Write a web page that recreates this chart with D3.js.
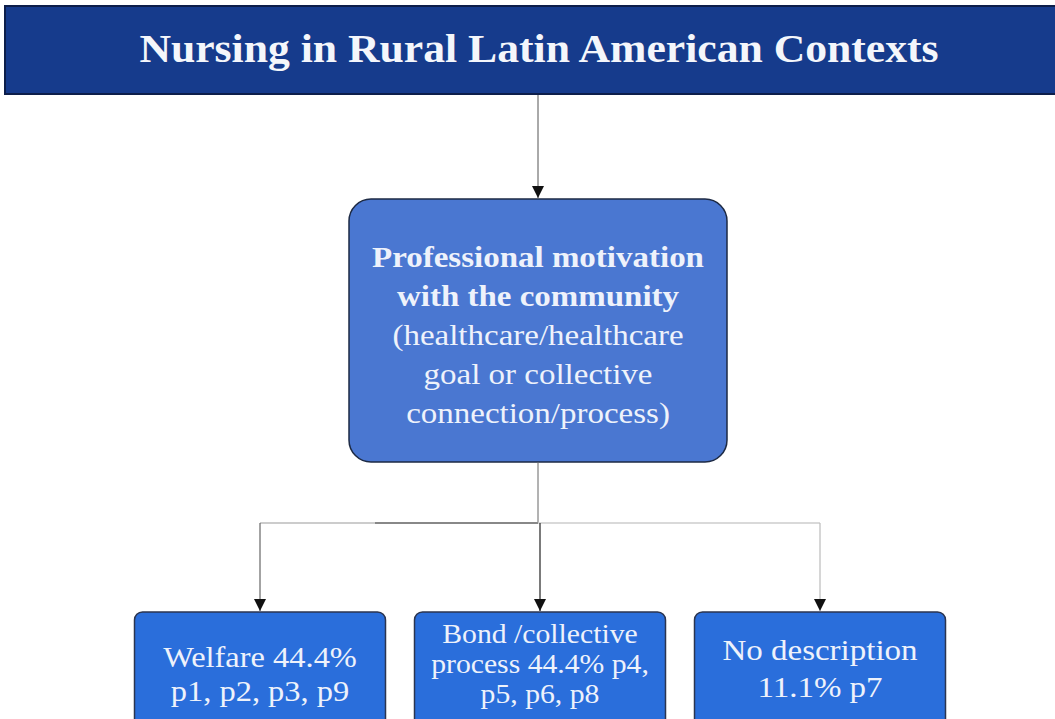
<!DOCTYPE html>
<html>
<head>
<meta charset="utf-8">
<script src="https://cdn.jsdelivr.net/npm/d3@7"></script>
<style>
  body { margin: 0; background: #fff; }
  svg { display: block; }
  text { font-family: "Liberation Serif", "DejaVu Serif", serif; }
</style>
</head>
<body>
<div id="flow"><svg></svg></div>
<script>
/** Data **/
var title = "Nursing in Rural Latin American Contexts";
var rootBold = ["Professional motivation", "with the community"];
var rootPlain = ["(healthcare/healthcare", "goal or collective", "connection/process)"];

var categories = ["Welfare", "Bond /collective process", "No description"];
var percents = ["44.4%", "44.4%", "11.1%"];
var participants = ["p1, p2, p3, p9", "p4, p5, p6, p8", "p7"];
// how each leaf label is broken into lines
var leafLines = [
    ["Welfare 44.4%", "p1, p2, p3, p9"],
    ["Bond /collective", "process 44.4% p4,", "p5, p6, p8"],
    ["No description", "11.1% p7"]
];


function drawFlow()
{
    var width = 1055;
    var height = 719;
    var stretch = 1.1;                  // the text in the picture is a bit wide

    var color_banner = "#163b8c";
    var color_root   = "#4a77d1";
    var color_leaf   = "#2a6edb";
    var color_text   = "#eef2fb";

    var svg = d3.select("#flow").select("svg")
        .attr("width", width)
        .attr("height", height);

    var defs = svg.append("defs");
    defs.append("marker")
        .attr("id", "arrow")
        .attr("viewBox", "0 0 10 10")
        .attr("refX", 10)
        .attr("refY", 5)
        .attr("markerWidth", 12)
        .attr("markerHeight", 13)
        .attr("markerUnits", "userSpaceOnUse")
        .attr("orient", "auto")
        .append("path")
        .attr("d", "M0,0 L10,5 L0,10 z")
        .style("fill", "#111");

    // Banner
    svg.append("rect")
        .attr("x", 5).attr("y", 6)
        .attr("width", width).attr("height", 88)
        .style("fill", color_banner)
        .style("stroke", "#0d1e4a")
        .style("stroke-width", 2);

    svg.append("text")
        .attr("transform", "translate(539,62) scale(1.065,1)")
        .attr("text-anchor", "middle")
        .style("font-size", "41px")
        .style("font-weight", "bold")
        .style("fill", "#f4f6fb")
        .text(title);

    // Root node
    var cx = 538;
    var root = {x: 349, y: 199, w: 378, h: 263};

    svg.append("line")
        .attr("x1", cx).attr("y1", 95)
        .attr("x2", cx).attr("y2", root.y - 1)
        .style("stroke", "#555").style("stroke-width", 1)
        .attr("marker-end", "url(#arrow)");

    svg.append("rect")
        .attr("x", root.x).attr("y", root.y)
        .attr("width", root.w).attr("height", root.h)
        .attr("rx", 22).attr("ry", 22)
        .style("fill", color_root)
        .style("stroke", "#1d2a44")
        .style("stroke-width", 1.5);

    var rootText = rootBold.map(function(t) { return {t: t, bold: true}; })
        .concat(rootPlain.map(function(t) { return {t: t, bold: false}; }));

    svg.append("g").selectAll("text")
        .data(rootText)
        .enter()
        .append("text")
        .attr("transform", function(d, i) {
            return "translate(" + cx + "," + (267 + i * 39) + ") scale(" + stretch + ",1)";
        })
        .attr("text-anchor", "middle")
        .style("font-size", "30px")
        .style("font-weight", function(d) { return d.bold ? "bold" : "normal"; })
        .style("fill", color_text)
        .text(function(d) { return d.t; });

    // Leaves
    var xScale = d3.scalePoint()
        .domain(categories)
        .range([260, 820]);

    var busY = 523;
    var leafTop = 612;
    var leafW = 251;

    svg.append("line")
        .attr("x1", cx).attr("y1", root.y + root.h)
        .attr("x2", cx).attr("y2", busY)
        .style("stroke", "#666").style("stroke-width", 1);

    svg.append("line")
        .attr("x1", xScale(categories[0])).attr("y1", busY)
        .attr("x2", 375).attr("y2", busY)
        .style("stroke", "#bbb").style("stroke-width", 1.5);
    svg.append("line")
        .attr("x1", 375).attr("y1", busY)
        .attr("x2", cx).attr("y2", busY)
        .style("stroke", "#888").style("stroke-width", 2);
    svg.append("line")
        .attr("x1", cx).attr("y1", busY)
        .attr("x2", xScale(categories[2])).attr("y2", busY)
        .style("stroke", "#ccc").style("stroke-width", 1.5);

    var edgeColors = ["#666", "#222", "#bbb"];
    svg.append("g").selectAll("line")
        .data(categories)
        .enter()
        .append("line")
        .attr("x1", function(d) { return xScale(d); })
        .attr("y1", busY)
        .attr("x2", function(d) { return xScale(d); })
        .attr("y2", leafTop - 1)
        .style("stroke", function(d, i) { return edgeColors[i]; })
        .style("stroke-width", 1.2)
        .attr("marker-end", "url(#arrow)");

    var leaves = svg.append("g").selectAll("g")
        .data(categories)
        .enter()
        .append("g")
        .attr("transform", function(d) { return "translate(" + xScale(d) + "," + leafTop + ")"; });

    leaves.append("rect")
        .attr("x", -leafW / 2)
        .attr("y", 0)
        .attr("width", leafW)
        .attr("height", 130)
        .attr("rx", 8).attr("ry", 8)
        .style("fill", color_leaf)
        .style("stroke", "#2b3550")
        .style("stroke-width", 1.5);

    var leafFont = [29.5, 27, 30];
    var leafStart = [55, 31, 48];
    var leafStep = [34, 30, 37];

    leaves.each(function(d, i) {
        d3.select(this).selectAll("text")
            .data(leafLines[i])
            .enter()
            .append("text")
            .attr("transform", function(t, j) {
                return "translate(0," + (leafStart[i] + j * leafStep[i]) + ") scale(" + stretch + ",1)";
            })
            .attr("text-anchor", "middle")
            .style("font-size", leafFont[i] + "px")
            .style("fill", color_text)
            .text(function(t) { return t; });
    });
}

drawFlow();
</script>
</body>
</html>
